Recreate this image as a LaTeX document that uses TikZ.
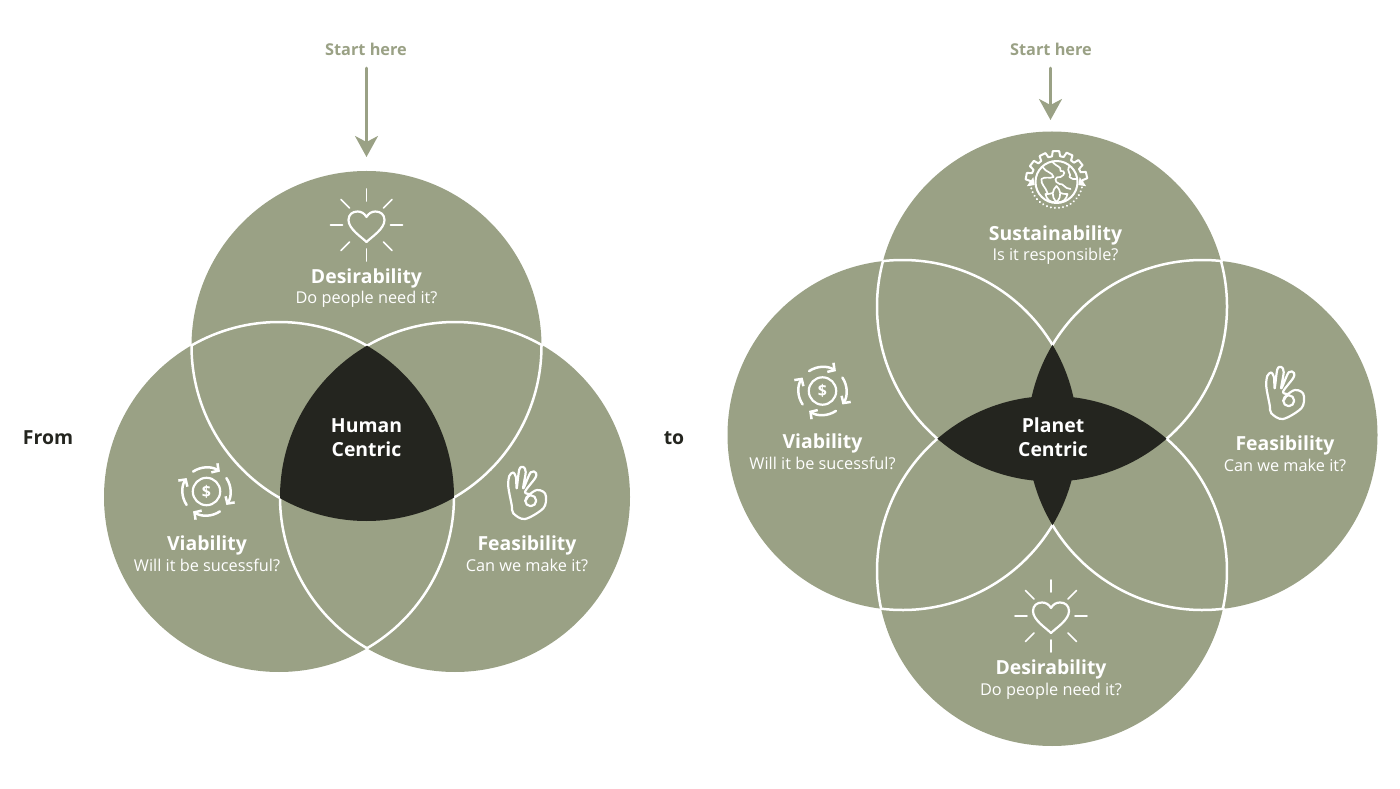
\documentclass[tikz,border=0pt]{standalone}
\usepackage{fontspec}
\setmainfont{Open Sans}
\usetikzlibrary{arrows.meta}
\definecolor{sage}{HTML}{9AA185}
\definecolor{coal}{HTML}{24251F}
\tikzset{
  ring/.style={fill=sage},
  seam/.style={draw=white,line width=2.5pt},
  title/.style={white,font=\fontsize{19.4}{23}\selectfont\bfseries},
  query/.style={white,font=\fontsize{16.3}{19}\selectfont},
  core/.style={white,align=center,font=\fontsize{19.4}{24}\selectfont\bfseries},
  side/.style={coal,font=\fontsize{19.4}{22}\selectfont\bfseries},
  start/.style={sage,font=\fontsize{16.3}{19}\selectfont\bfseries},
  pointer/.style={draw=sage,line width=2.5pt,-{Stealth[length=21pt,width=23pt,inset=6pt]}},
  icon/.style={draw=white,line width=2.2pt},
  heart icon/.pic={
    \draw[icon] (0,-17) .. controls (-5,-12) and (-18,-4) .. (-18,5) .. controls (-18,10.5) and (-14,13.5) .. (-9,13.5)
      .. controls (-5,13.5) and (-2,11.5) .. (0,8) .. controls (2,11.5) and (5,13.5) .. (9,13.5)
      .. controls (14,13.5) and (18,10.5) .. (18,5) .. controls (18,-4) and (5,-12) .. (0,-17) -- cycle;
    \foreach \a in {0,45,...,315}
      \draw[icon,line width=1.6pt] (\a:24) -- (\a:36);
  },
  money icon/.pic={
    \draw[icon] (0,0) circle (13.7);
    \node[white,font=\fontsize{16}{16}\selectfont\bfseries] (-dollar) at (0,0) {\$};
    \foreach \a in {0,90,180,270}
      \draw[icon,line width=2.5pt,-{Straight Barb[length=5pt,width=11pt]}] (\a+124:24) arc[start angle=\a+124,end angle=\a+56,radius=24];
  },
  hand icon/.pic={
    \draw[icon] plot[smooth,tension=0.55] coordinates {(3,-1) (-2,1.3) (8,14.7) (9,20) (3.7,20.7) (-3.7,4.7) (-1.3,21) (-3.7,26) (-7.7,23.5) (-10.3,4.7) (-11,15.5) (-13.7,20.5) (-17.7,17) (-18.7,6.3) (-15.3,-12) (-13.7,-20.3) (-2,-26) (16.3,-15.3) (19,-3.7) (16.3,1.3) (10,3) (3,-1) (-1,-7)};
    \draw[icon] (3.7,-7.7) circle (5.5);
  },
  globe icon/.pic={
    \draw[icon,line width=2pt] (0,0) circle (21);
    \foreach \a in {13,39,...,169}
      \draw[icon,line width=2pt] (\a-9:26) -- (\a-6:31) -- (\a+6:31) -- (\a+9:26) arc[start angle=\a+9,end angle=\a+17,radius=26];
    \draw[icon,line width=2pt] (4:26) arc[start angle=4,end angle=-5,radius=26];
    \draw[white,line width=2.2pt,dash pattern=on 0.1pt off 4pt,line cap=round] (-12:26) arc[start angle=-12,end angle=-168,radius=26];
    \fill[white] (-8:30) -- (-8:22) -- ++(80:8) -- cycle;
    \fill[white] (188:30) -- (188:22) -- ++(100:8) -- cycle;
    % land
    \draw[icon,line width=1.7pt] (-14,15) .. controls (-10,9) and (-4,10) .. (-3,5) .. controls (-7,3) and (-11,6) .. (-15,3) .. controls (-16,-2) and (-11,-5) .. (-9,-11);
    \draw[icon,line width=1.7pt] (-4,20) .. controls (0,15) and (5,16) .. (4,11) .. controls (9,12) and (9,7) .. (4,5) .. controls (-2,6) and (-3,0) .. (3,-2) .. controls (7,-1) and (8,-7) .. (14,-7);
    \draw[icon,line width=1.7pt] (13,16) .. controls (9,10) and (16,8) .. (13,5) .. controls (16,3) and (18,2) .. (20,3);
    % lotus
    \draw[icon,line width=1.7pt] (0,-20) .. controls (-6,-14) and (-4,-8) .. (0,-4) .. controls (4,-8) and (6,-14) .. (0,-20);
    \draw[icon,line width=1.7pt] (0,-20) .. controls (-7,-21) and (-10,-17) .. (-11,-12) .. controls (-8,-12) and (-6,-12) .. (-4,-11);
    \draw[icon,line width=1.7pt] (0,-20) .. controls (7,-21) and (10,-17) .. (11,-12) .. controls (8,-12) and (6,-12) .. (4,-11);
  }
}
\begin{document}
\begin{tikzpicture}[x=1pt,y=1pt,line cap=round,line join=round]
  \useasboundingbox (0,0) rectangle (1400,788);
  % from: three circles
  \coordinate (hTop) at (366.5,442);
  \coordinate (hLeft) at (279,291);
  \coordinate (hRight) at (455,291);
  \foreach \c in {hTop,hLeft,hRight}
    \fill[ring] (\c) circle (175);
  \draw[seam] ([shift={(120:175)}]hLeft) arc[start angle=120,end angle=60,radius=175];
  \draw[seam] ([shift={(120:175)}]hRight) arc[start angle=120,end angle=60,radius=175];
  \draw[seam] ([shift={(180:175)}]hTop) arc[start angle=180,end angle=240,radius=175];
  \draw[seam] ([shift={(300:175)}]hTop) arc[start angle=300,end angle=360,radius=175];
  \draw[seam] ([shift={(180:175)}]hRight) arc[start angle=180,end angle=240,radius=175];
  \draw[seam] ([shift={(0:175)}]hLeft) arc[start angle=0,end angle=-60,radius=175];
  \begin{scope}
    \clip (hTop) circle (175);
    \clip (hLeft) circle (175);
    \fill[coal] (hRight) circle (175);
  \end{scope}
  % to: four circles
  \coordinate (pTop) at (1052,481.5);
  \coordinate (pBottom) at (1052,217);
  \coordinate (pLeft) at (902.5,353);
  \coordinate (pRight) at (1202.5,353);
  \foreach \c in {pTop,pBottom,pLeft,pRight}
    \fill[ring] (\c) circle (175);
  \draw[seam] ([shift={(96.4:175)}]pLeft) arc[start angle=96.4,end angle=31,radius=175];
  \draw[seam] ([shift={(-31:175)}]pLeft) arc[start angle=-31,end angle=-97,radius=175];
  \draw[seam] ([shift={(83.6:175)}]pRight) arc[start angle=83.6,end angle=149,radius=175];
  \draw[seam] ([shift={(211:175)}]pRight) arc[start angle=211,end angle=277,radius=175];
  \draw[seam] ([shift={(164.9:175)}]pTop) arc[start angle=164.9,end angle=229,radius=175];
  \draw[seam] ([shift={(311:175)}]pTop) arc[start angle=311,end angle=375.1,radius=175];
  \draw[seam] ([shift={(131:175)}]pBottom) arc[start angle=131,end angle=192.4,radius=175];
  \draw[seam] ([shift={(49:175)}]pBottom) arc[start angle=49,end angle=-12.4,radius=175];
  \begin{scope}
    \clip (pTop) circle (175);
    \fill[coal] (pBottom) circle (175);
  \end{scope}
  \begin{scope}
    \clip (pLeft) circle (175);
    \fill[coal] (pRight) circle (175);
  \end{scope}
  % icons
  \pic at (366.5,563) {heart icon};
  \pic (moneyA) at (206.5,296.5) {money icon};
  \pic at (527,295) {hand icon};
  \pic at (1056.5,606) {globe icon};
  \pic (moneyB) at (822.5,397) {money icon};
  \pic at (1285,395) {hand icon};
  \pic at (1051,172) {heart icon};
  % labels
  \node[title] (desH) at (366.5,510) {Desirability};
  \node[query] (desHq) at (366.5,489) {Do people need it?};
  \node[title] (viaH) at (207,243) {Viability};
  \node[query] (viaHq) at (207,223) {Will it be sucessful?};
  \node[title] (feaH) at (527,243) {Feasibility};
  \node[query] (feaHq) at (527,223) {Can we make it?};
  \node[core] (human) at (366.5,350.5) {Human\\Centric};
  \node[title] (susP) at (1055.5,553) {Sustainability};
  \node[query] (susPq) at (1055.5,532) {Is it responsible?};
  \node[title] (viaP) at (822.5,345) {Viability};
  \node[query] (viaPq) at (822.5,325) {Will it be sucessful?};
  \node[title] (feaP) at (1285,343) {Feasibility};
  \node[query] (feaPq) at (1285,323) {Can we make it?};
  \node[title] (desP) at (1051,119) {Desirability};
  \node[query] (desPq) at (1051,97) {Do people need it?};
  \node[core] (planet) at (1053,351) {Planet\\Centric};
  \node[side] (from) at (48,350) {From};
  \node[side] (into) at (674,350) {to};
  \node[start] (startH) at (366,739) {Start here};
  \node[start] (startP) at (1051,739) {Start here};
  % arrows
  \coordinate (tipH) at (366.5,631);
  \coordinate (tipP) at (1050.5,668);
  \draw[pointer] (366.5,720) -- (tipH);
  \draw[pointer] (1050.5,720) -- (tipP);
\end{tikzpicture}
\end{document}
